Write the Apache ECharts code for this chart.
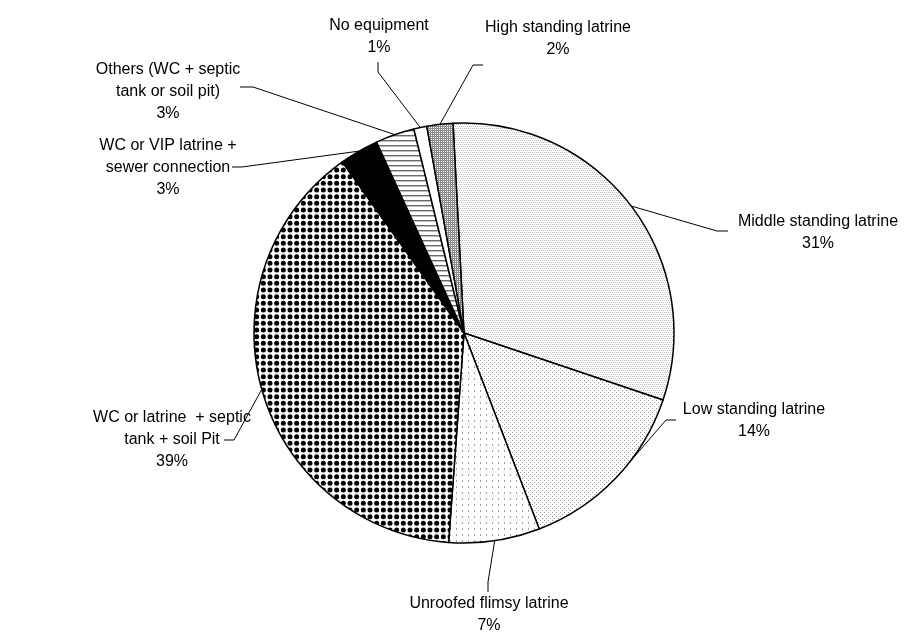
<!DOCTYPE html>
<html>
<head>
<meta charset="utf-8">
<script src="https://cdn.jsdelivr.net/npm/echarts@6/dist/echarts.min.js"></script>
<style>
  html, body { margin: 0; padding: 0; background: #fff; }
  #chart { width: 908px; height: 635px; }
</style>
</head>
<body>
<div id="chart"></div>
<script>
// slices, clockwise from just left of 12 o'clock
const categories = [
  'Middle standing latrine',
  'Low standing latrine',
  'Unroofed flimsy latrine',
  'WC or latrine  + septic\ntank + soil Pit',
  'WC or VIP latrine +\nsewer connection',
  'Others (WC + septic\ntank or soil pit)',
  'No equipment',
  'High standing latrine'
]
const shares = [31, 14, 7, 39, 3, 3, 1, 2]

// label placement: centre of text, elbow and end of leader line
const labelPos = [
  { x: 818, y: 233, elbow: [717, 231], end: [728, 231] },
  { x: 754, y: 421, elbow: [666, 420], end: [676, 420] },
  { x: 489, y: 615, elbow: [488, 582], end: [488, 592] },
  { x: 172, y: 440, elbow: [234, 440], end: [224, 440] },
  { x: 168, y: 168, elbow: [242, 167], end: [232, 167] },
  { x: 168, y: 92, elbow: [253, 87], end: [240, 87] },
  { x: 379, y: 37, elbow: [378, 72], end: [378, 62] },
  { x: 558, y: 39, elbow: [473, 65], end: [483, 65] }
]

function tile (w, h, draw) {
  const c = document.createElement('canvas')
  c.width = w
  c.height = h
  const ctx = c.getContext('2d')
  ctx.fillStyle = '#fff'
  ctx.fillRect(0, 0, w, h)
  draw(ctx)
  return { image: c, repeat: 'repeat' }
}

const patterns = [
  // middle: fine light speckle
  tile(4, 4, ctx => {
    ctx.fillStyle = '#bdbdbd'
    ctx.fillRect(0, 0, 1, 1); ctx.fillRect(2, 0, 1, 1)
    ctx.fillRect(1, 2, 1, 1); ctx.fillRect(3, 2, 1, 1)
  }),
  // low: staggered grey dots
  tile(4, 4, ctx => {
    ctx.fillStyle = '#999'
    ctx.fillRect(0, 0, 1, 1); ctx.fillRect(2, 2, 1, 1)
  }),
  // unroofed: sparse dashes
  tile(6, 6, ctx => {
    ctx.fillStyle = '#a0a0a0'
    ctx.fillRect(0, 0, 1, 2)
  }),
  // septic: big black dots
  tile(20, 20, ctx => {
    ctx.fillStyle = '#000'
    for (let i = 0; i < 3; i++) {
      for (let j = 0; j < 3; j++) {
        ctx.beginPath()
        ctx.arc(3.33 + i * 6.667, 3.33 + j * 6.667, 2.5, 0, Math.PI * 2)
        ctx.fill()
      }
    }
  }),
  '#000000',
  // others: horizontal lines
  tile(4, 5, ctx => {
    ctx.fillStyle = '#6a6a6a'
    ctx.fillRect(0, 0, 4, 1)
    ctx.fillStyle = '#c0c0c0'
    ctx.fillRect(0, 1, 4, 1)
  }),
  '#ffffff',
  // high: dense grey grid
  tile(2, 2, ctx => {
    ctx.fillStyle = '#8c8c8c'
    ctx.fillRect(0, 0, 2, 1)
    ctx.fillRect(0, 1, 1, 1)
  })
]

const chart = echarts.init(document.getElementById('chart'))
const option = {
  animation: false,
  backgroundColor: '#fff',
  series: [
    {
      type: 'pie',
      center: [464, 333],
      radius: 210,
      startAngle: 93,
      clockwise: true,
      avoidLabelOverlap: false,
      data: categories.map((name, i) => ({
        name: name,
        value: shares[i],
        itemStyle: { color: patterns[i] }
      })),
      itemStyle: {
        borderColor: '#000',
        borderWidth: 1.5
      },
      emphasis: { disabled: true },
      label: {
        show: true,
        position: 'outside',
        formatter: p => p.name + '\n' + p.value + '%',
        fontFamily: 'Liberation Sans, Arial, sans-serif',
        fontSize: 16,
        lineHeight: 22,
        color: '#000',
        align: 'center'
      },
      labelLine: {
        show: true,
        lineStyle: { color: '#000', width: 1 }
      },
      labelLayout: function (params) {
        const p = labelPos[params.dataIndex]
        const start = params.labelLinePoints ? params.labelLinePoints[0] : p.elbow
        return {
          x: p.x,
          y: p.y,
          align: 'center',
          verticalAlign: 'middle',
          labelLinePoints: [start, p.elbow, p.end]
        }
      }
    }
  ]
}
chart.setOption(option)
</script>
</body>
</html>
